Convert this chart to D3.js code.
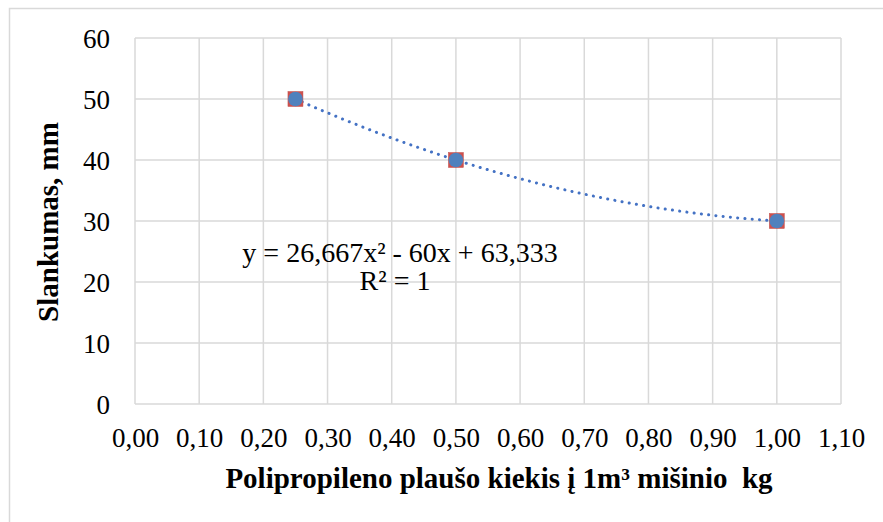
<!DOCTYPE html>
<html>
<head>
<meta charset="utf-8">
<script src="https://cdn.jsdelivr.net/npm/d3@7"></script>
<style>
  html, body { margin: 0; padding: 0; background: #fff; }
  svg { display: block; }
</style>
</head>
<body>
<svg id="chart" width="883" height="522"></svg>
<script>
// Measured slump vs. polypropylene fibre dosage
const fibreKg = [0.25, 0.50, 1.00];
const slumpMm = [50, 40, 30];

// Axis ticks
const xTicks = [0, 0.1, 0.2, 0.3, 0.4, 0.5, 0.6, 0.7, 0.8, 0.9, 1.0, 1.1];
const yTicks = [0, 10, 20, 30, 40, 50, 60];

// Polynomial trendline coefficients (a*x^2 + b*x + c)
const trendCoef = [26.667, -60, 63.333];
const trendLabel = ["y = 26,667x² - 60x + 63,333", "R² = 1"];

const xTitle = "Polipropileno plaušo kiekis į 1m³ mišinio  kg";
const yTitle = "Slankumas, mm";

const svg = d3.select("#chart");
const font = "'Liberation Serif', 'Times New Roman', serif";
const fsTick = 27, fsEq = 28, fsTitle = 29;

// outer frame
svg.append("rect")
  .attr("x", 9.5).attr("y", 8.5).attr("width", 900).attr("height", 600)
  .attr("fill", "#fff").attr("stroke", "#d9d9d9").attr("stroke-width", 1.5);

const plot = { left: 135, right: 841, top: 38, bottom: 404 };

const x = d3.scaleLinear().domain([0, 1.1]).range([plot.left, plot.right]);
const y = d3.scaleLinear().domain([0, 60]).range([plot.bottom, plot.top]);

// gridlines
const grid = svg.append("g");
grid.selectAll("line.v").data(xTicks).join("line")
  .attr("x1", d => x(d)).attr("x2", d => x(d))
  .attr("y1", plot.top).attr("y2", plot.bottom)
  .attr("stroke", "#d9d9d9").attr("stroke-width", 1.5);
grid.selectAll("line.h").data(yTicks).join("line")
  .attr("x1", plot.left).attr("x2", plot.right)
  .attr("y1", d => y(d)).attr("y2", d => y(d))
  .attr("stroke", "#d9d9d9").attr("stroke-width", 1.5);

// axes (labels only, lines come from the grid)
const fmtX = d => d3.format(".2f")(d).replace(".", ",");
const xAxis = svg.append("g")
  .attr("transform", `translate(0,${plot.bottom})`)
  .call(d3.axisBottom(x).tickValues(xTicks).tickFormat(fmtX).tickSize(0).tickPadding(43));
const yAxis = svg.append("g")
  .attr("transform", `translate(${plot.left},0)`)
  .call(d3.axisLeft(y).tickValues(yTicks).tickSize(0).tickPadding(25));
[xAxis, yAxis].forEach(g => {
  g.attr("font-family", font).attr("font-size", fsTick);
  g.select(".domain").remove();
  g.selectAll("text")
    .style("font-family", font).style("font-size", fsTick + "px").attr("fill", "#000");
});
xAxis.selectAll("text").attr("dy", "0");
yAxis.selectAll("text").attr("dy", "0.34em");

// trendline
const xs = d3.range(fibreKg[0], fibreKg[fibreKg.length - 1] + 1e-9, 0.005);
const trend = xs.map(v => [v, trendCoef[0] * v * v + trendCoef[1] * v + trendCoef[2]]);
svg.append("path")
  .datum(trend)
  .attr("fill", "none")
  .attr("stroke", "#4472C4")
  .attr("stroke-width", 3)
  .attr("stroke-linecap", "round")
  .attr("stroke-dasharray", "0.1 7.2")
  .attr("d", d3.line().x(d => x(d[0])).y(d => y(d[1])));

// markers
const pts = fibreKg.map((v, i) => [v, slumpMm[i]]);
svg.append("g").selectAll("rect").data(pts).join("rect")
  .attr("x", d => x(d[0]) - 7.5).attr("y", d => y(d[1]) - 7.5)
  .attr("width", 15).attr("height", 15)
  .attr("fill", "#d0504d").attr("stroke", "#c0504d").attr("stroke-width", 0.5);
svg.append("g").selectAll("circle").data(pts).join("circle")
  .attr("cx", d => x(d[0])).attr("cy", d => y(d[1]))
  .attr("r", 7.3).attr("fill", "#4f81bd");

// trendline equation
const txt = (sel, fs) => sel.style("font-family", font).style("font-size", fs + "px");
svg.append("text")
  .attr("x", 400).attr("y", 262)
  .attr("text-anchor", "middle")
  .call(txt, fsEq)
  .text(trendLabel[0]);
svg.append("text")
  .attr("x", 395).attr("y", 290)
  .attr("text-anchor", "middle")
  .call(txt, fsEq)
  .text(trendLabel[1]);

// axis titles
svg.append("text")
  .attr("x", 499).attr("y", 488)
  .attr("text-anchor", "middle")
  .style("white-space", "pre")
  .call(txt, fsTitle).style("font-weight", "bold")
  .text(xTitle);
svg.append("text")
  .attr("transform", `translate(58,222) rotate(-90)`)
  .attr("text-anchor", "middle")
  .call(txt, fsTitle).style("font-weight", "bold")
  .text(yTitle);
</script>
</body>
</html>
